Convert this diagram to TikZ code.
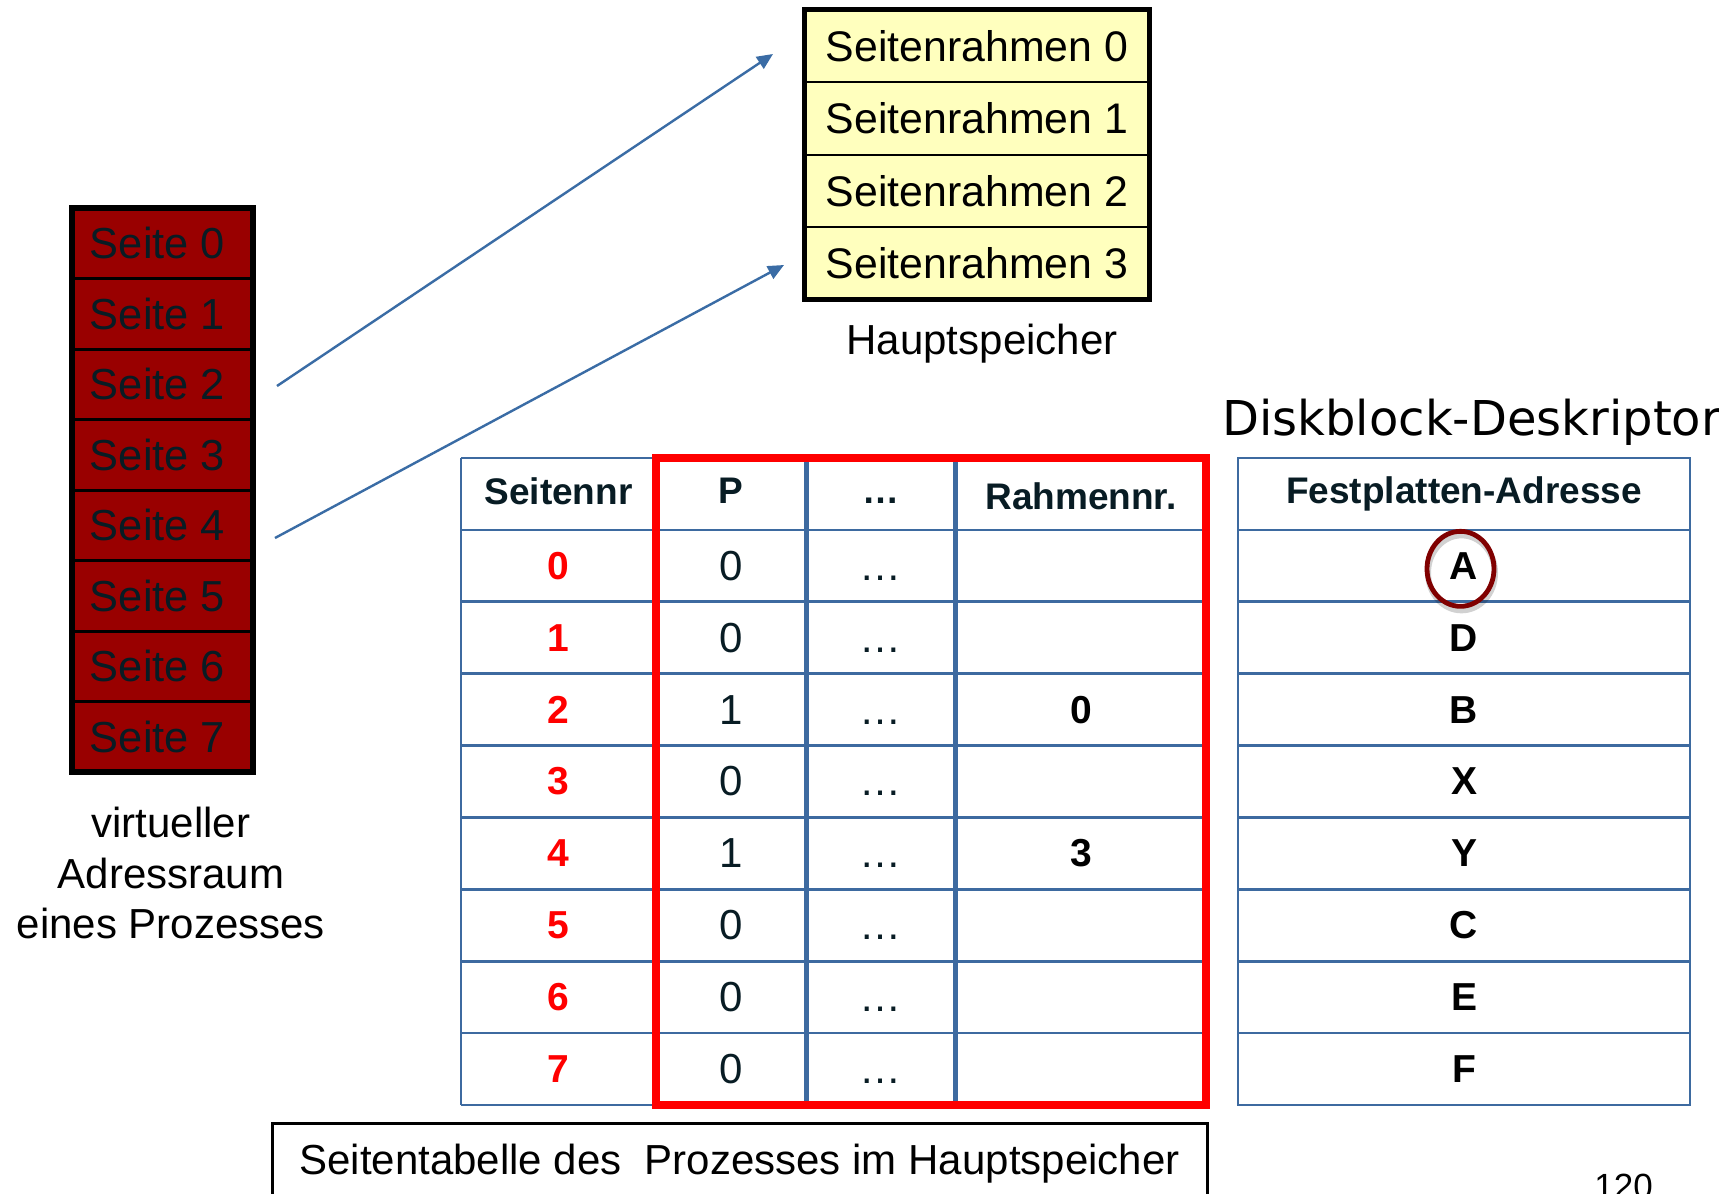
\documentclass[tikz,border=0pt]{standalone}
\usepackage{fontspec}
\setmainfont{Liberation Sans}
\newfontfamily\djvfont{DejaVu Sans}
\usetikzlibrary{arrows.meta}
\definecolor{tblue}{RGB}{61,106,160}
\definecolor{ablue}{RGB}{58,108,165}
\definecolor{pagered}{RGB}{153,0,0}
\definecolor{ink}{RGB}{8,28,36}
\definecolor{framey}{RGB}{255,255,190}
\definecolor{ringred}{RGB}{128,0,0}
\newcommand\szreg{\fontsize{21pt}{25.25pt}\selectfont}
\newcommand\szseite{\fontsize{21.7pt}{26pt}\selectfont}
\newcommand\szframe{\fontsize{21.4pt}{26pt}\selectfont}
\newcommand\szhd{\fontsize{18.5pt}{22pt}\selectfont\bfseries}
\newcommand\szbd{\fontsize{19.5pt}{23pt}\selectfont\bfseries}
\tikzset{
 seitebox/.style={draw=black, line width=1.5pt, fill=pagered, text=ink, font=\szseite, minimum width=90.5pt, minimum height=35.25pt, inner sep=0pt, outer sep=0pt},
 framebox/.style={draw=black, line width=1pt, fill=framey, text=black, font=\szframe, minimum width=172.5pt, minimum height=36.25pt, inner sep=0pt, outer sep=0pt},
 lbl/.style={font=\szreg, text=black, inner sep=0pt},
 tline/.style={draw=tblue, line width=1.35pt},
 tvline/.style={draw=tblue, line width=2.5pt},
 maparrow/.style={draw=ablue, line width=1.2pt, -{Triangle[length=8pt,width=7pt]}},
 hdtext/.style={font=\szhd, text=ink, inner sep=0pt},
 rnum/.style={font=\szbd, text=red, inner sep=0pt},
 pval/.style={font=\szreg, text=ink, inner sep=0pt},
 bval/.style={font=\szbd, text=black, inner sep=0pt},
}
\begin{document}
\begin{tikzpicture}[x=0.5pt,y=-0.5pt]
\useasboundingbox[fill=white] (0,0) rectangle (1719,1194);

% virtual address space
\foreach \i in {0,...,7}
  \node[seitebox] (s\i) at (162.5,{208+70.5*(\i+0.5)}) {Seite \i\kern5pt};
\draw[line width=3pt] (s0.north west) rectangle (s7.south east);
\node[lbl, anchor=base] (v1) at (171,837) {virtueller};
\node[lbl, anchor=base] (v2) at (171,888) {Adressraum};
\node[lbl, anchor=base] (v3) at (171,938) {eines Prozesses};

% main memory frames
\foreach \i in {0,...,3}
  \node[framebox] (f\i) at (977,{9.5+72.5*(\i+0.5)}) {Seitenrahmen \i};
\draw[line width=2.5pt] (f0.north west) rectangle (f3.south east);
\node[lbl, anchor=base] (hs) at (982,354) {Hauptspeicher};

% arrows
\coordinate (a1s) at (277,386);
\coordinate (a1e) at (773,54);
\coordinate (a2s) at (275,538);
\coordinate (a2e) at (784,265);
\draw[maparrow] (a1s) -- (a1e);
\draw[maparrow] (a2s) -- (a2e);

% page table grid
\foreach \r in {0,...,9}
  \draw[tline] (461,{458+71.89*\r}) -- (1206,{458+71.89*\r});
\draw[tline] (461,458) -- (461,1105);
\draw[tvline] (806,458) -- (806,1105);
\draw[tvline] (955.5,458) -- (955.5,1105);
\draw[red, line width=4pt] (656,458) rectangle (1206,1105);

% disk block table grid
\foreach \r in {1,...,8}
  \draw[tline] (1238,{458+71.89*\r}) -- (1690,{458+71.89*\r});
\draw[tline] (1238,458) rectangle (1690,1105);

% headers
\node[hdtext] (h0) at (558.5,491) {Seitennr};
\node[hdtext] (h1) at (731,491) {P};
\node[hdtext] (h2) at (880.75,491) {\vphantom{P}…};
\node[hdtext] (h3) at (1081,496) {Rahmennr.};
\node[hdtext] (h4) at (1464,494) {Festplatten-Adresse};

% body
\foreach \v/\p/\k in {0/0/A,1/0/D,2/1/B,3/0/X,4/1/Y,5/0/C,6/0/E,7/0/F} {
  \node[rnum] (n\v) at (558.5,{458+71.89*(\v+1.5)}) {\v};
  \node[pval] (p\v) at (731,{458+71.89*(\v+1.5)}) {\p};
  \node[pval] (d\v) at (880.75,{458+71.89*(\v+1.5)}) {\vphantom{0}…};
  \node[bval] (k\v) at (1464,{458+71.89*(\v+1.5)}) {\k};
}
\node[bval] (r2) at (1081,{458+71.89*3.5}) {0};
\node[bval] (r4) at (1081,{458+71.89*5.5}) {3};

% ring around A
\draw[black, opacity=0.18, line width=3pt] ([xshift=-1.25pt,yshift=-3.5pt]k0.center) ellipse [x radius=16.75pt, y radius=18.75pt];
\draw[ringred, line width=2.4pt] ([xshift=-1.75pt,yshift=-1.5pt]k0.center) ellipse [x radius=16.75pt, y radius=18.75pt];

% titles
\node[anchor=base west, inner sep=0pt, font=\djvfont\fontsize{24pt}{28pt}\selectfont] (dd) at (1222,435) {Diskblock-Deskriptor};
\node[draw=black, line width=1.5pt, minimum width=467.5pt, minimum height=41pt, inner sep=0pt, font=\szreg] (cap) at (739.5,1164) {Seitentabelle des\ \ Prozesses im Hauptspeicher};
\node[anchor=base west, inner sep=0pt, font=\fontsize{17.5pt}{20pt}\selectfont] (pg) at (1594,1198) {120};
\end{tikzpicture}
\end{document}
